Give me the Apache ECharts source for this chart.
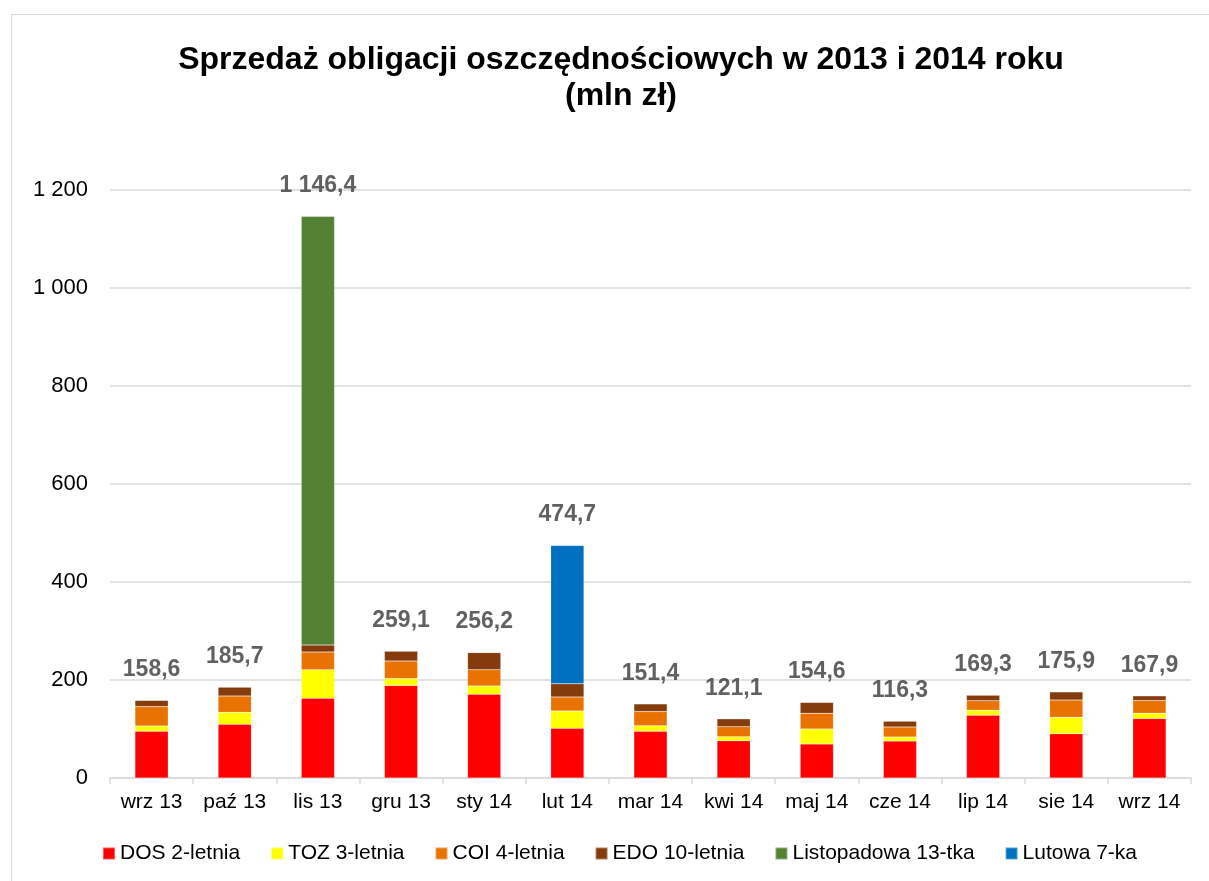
<!DOCTYPE html>
<html>
<head>
<meta charset="utf-8">
<script src="https://cdn.jsdelivr.net/npm/echarts@6/dist/echarts.min.js"></script>
<style>
  html, body { margin: 0; padding: 0; background: #fff; }
  #frame {
    position: absolute; left: 11px; top: 14px; width: 1210px; height: 880px;
    border: 1px solid #d9d9d9; box-sizing: border-box;
  }
  #chart { position: absolute; left: 0; top: 0; width: 1209px; height: 881px; }
</style>
</head>
<body>
<div id="frame"></div>
<div id="chart"></div>
<script>
const months = ["wrz 13", "paź 13", "lis 13", "gru 13", "sty 14", "lut 14", "mar 14",
  "kwi 14", "maj 14", "cze 14", "lip 14", "sie 14", "wrz 14"];

const dos = [95.3, 109.5, 162.6, 189.0, 171.0, 101.4, 95.2, 76.0, 69.4, 75.5, 128.3, 90.5, 121.4];
const toz = [10.9, 24.5, 58.5, 14.3, 17.0, 35.4, 11.6, 8.2, 30.6, 8.2, 10.2, 33.3, 10.9];
const coi = [39.5, 33.3, 36.1, 35.4, 32.8, 28.6, 28.8, 20.5, 32.1, 20.4, 19.1, 35.2, 25.9];
const edo = [12.9, 18.4, 14.3, 20.4, 35.4, 27.2, 15.8, 16.4, 22.5, 12.2, 11.7, 16.9, 9.7];
const listopadowa = [0, 0, 874.9, 0, 0, 0, 0, 0, 0, 0, 0, 0, 0];
const lutowa = [0, 0, 0, 0, 0, 282.1, 0, 0, 0, 0, 0, 0, 0];
const totals = [158.6, 185.7, 1146.4, 259.1, 256.2, 474.7, 151.4, 121.1, 154.6, 116.3, 169.3, 175.9, 167.9];

const yTicks = [0, 200, 400, 600, 800, 1000, 1200];

function plNumber(v, digits) {
  const parts = v.toFixed(digits).split(".");
  const intPart = parts[0].replace(/\B(?=(\d{3})+(?!\d))/g, " ");
  return parts.length > 1 ? intPart + "," + parts[1] : intPart;
}

const font = "'Liberation Sans', Arial, sans-serif";

const stackSeries = [
  { name: "DOS 2-letnia", data: dos, color: "#ff0000" },
  { name: "TOZ 3-letnia", data: toz, color: "#ffff00" },
  { name: "COI 4-letnia", data: coi, color: "#e97200" },
  { name: "EDO 10-letnia", data: edo, color: "#843c0c" },
  { name: "Listopadowa 13-tka", data: listopadowa, color: "#548235" },
  { name: "Lutowa 7-ka", data: lutowa, color: "#0070c0" },
].map((s) => ({
  name: s.name,
  type: "bar",
  stack: "total",
  barWidth: "40%",
  data: s.data,
  itemStyle: { color: s.color, borderColor: "rgba(255,255,255,0.35)", borderWidth: 0.5 },
}));

const chart = echarts.init(document.getElementById("chart"));

chart.setOption({
  animation: false,
  textStyle: { fontFamily: font },
  title: {
    text: "Sprzedaż obligacji oszczędnościowych w 2013 i 2014 roku\n(mln zł)",
    left: 616,
    top: 37,
    textAlign: "center",
    textStyle: { fontSize: 32, fontWeight: "bold", color: "#000", lineHeight: 36, fontFamily: font },
  },
  grid: { left: 110, right: 18, top: 190, bottom: 103, containLabel: false },
  legend: {
    data: stackSeries.map((s) => s.name),
    left: 97,
    bottom: 12,
    itemWidth: 12,
    itemHeight: 12,
    itemGap: 30,
    icon: "rect",
    textStyle: { fontSize: 21, color: "#000", fontFamily: font },
  },
  xAxis: {
    type: "category",
    data: months,
    axisLine: { lineStyle: { color: "#d9d9d9", width: 1.5 } },
    axisTick: { show: true, length: 6, lineStyle: { color: "#d9d9d9", width: 1.5 } },
    axisLabel: { interval: 0, fontSize: 21, color: "#000", margin: 14, fontFamily: font },
  },
  yAxis: {
    type: "value",
    min: 0,
    max: 1200,
    interval: 200,
    axisLine: { show: false },
    axisTick: { show: false },
    splitLine: { lineStyle: { color: "#d9d9d9", width: 1.5 } },
    axisLabel: {
      fontSize: 22,
      color: "#000",
      margin: 22,
      fontFamily: font,
      formatter: (v) => (yTicks.includes(v) ? plNumber(v, 0) : ""),
    },
  },
  series: [
    ...stackSeries,
    {
      name: "Suma",
      type: "scatter",
      data: totals,
      symbolSize: 0,
      silent: true,
      label: {
        show: true,
        position: "top",
        distance: 19,
        fontSize: 23,
        fontWeight: "bold",
        color: "#3a3a3a",
        fontFamily: font,
        formatter: (p) => plNumber(p.value, 1),
      },
    },
  ],
});
</script>
</body>
</html>
